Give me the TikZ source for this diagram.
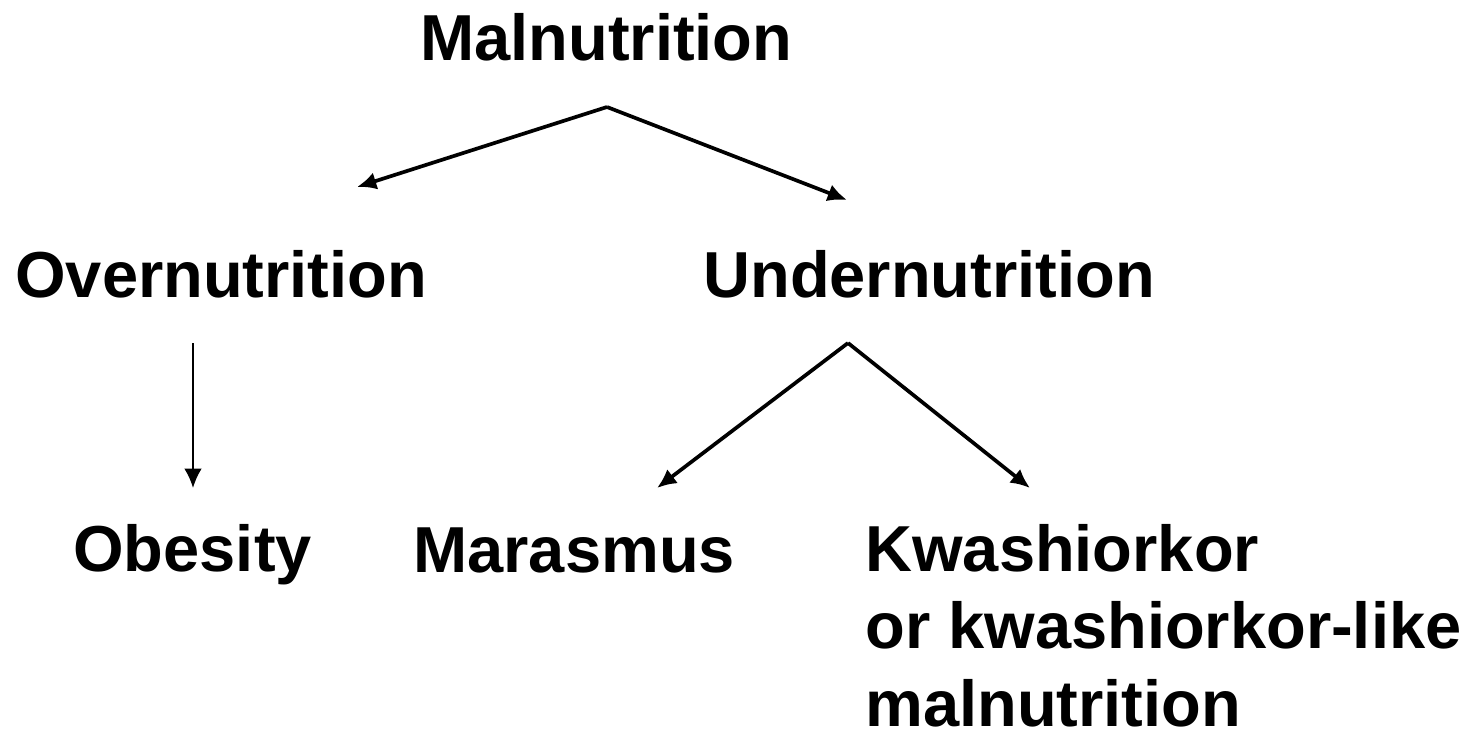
\documentclass[tikz,border=0pt]{standalone}
\usepackage{fontspec}
\setmainfont{Liberation Sans}
\usetikzlibrary{arrows.meta}

\begin{document}
\begin{tikzpicture}[x=0.02cm,y=-0.02cm]
	\tikzstyle{every node}+=[inner sep=0pt,font=\fontsize{37}{44}\selectfont\bfseries]
	\tikzstyle{term}=[anchor=base west,align=left]
	\tikzstyle{link}=[black,line width=2.1pt,-{Latex[length=11pt,width=10pt]}]
	\useasboundingbox (0,0) rectangle (1479,730);
	\node [term] (mal) at (420,60) {Malnutrition};
	\node [term] (over) at (15,297) {Overnutrition};
	\node [term] (under) at (703,297) {Undernutrition};
	\node [term] (obes) at (73,571) {Obesity};
	\node [term] (mara) at (413,572) {Marasmus};
	\node [term] (kwash) at (865,726) {Kwashiorkor\\or kwashiorkor-like\\malnutrition};
	\coordinate (malfork) at (607,107);
	\coordinate (overin) at (357,187);
	\coordinate (underin) at (847,200);
	\coordinate (overout) at (193,343);
	\coordinate (obesin) at (193,488);
	\coordinate (underfork) at (848,343);
	\coordinate (marain) at (657,488);
	\coordinate (kwashin) at (1030,488);
	\draw [link] (malfork) -- (overin);
	\draw [link] (malfork) -- (underin);
	\draw [link,line width=1.3pt] (overout) -- (obesin);
	\draw [link] (underfork) -- (marain);
	\draw [link] (underfork) -- (kwashin);
\end{tikzpicture}
\end{document}
